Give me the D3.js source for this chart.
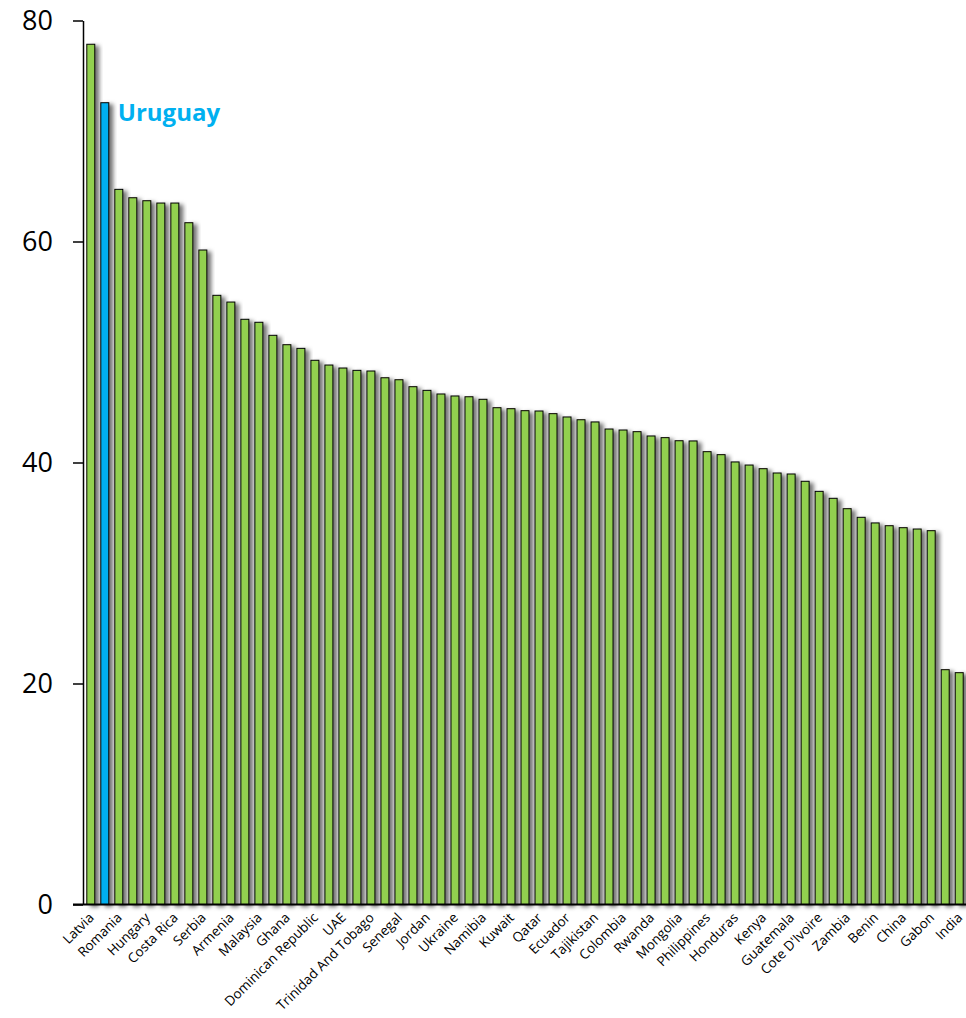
<!DOCTYPE html>
<html>
<head>
<meta charset="utf-8">
<script src="https://cdn.jsdelivr.net/npm/d3@7/dist/d3.min.js"></script>
<style>
  body { margin: 0; background: #fff; }
  svg { display: block; font-family: "Open Sans", sans-serif; }
</style>
</head>
<body>
<svg id="chart"></svg>
<script>
// values, sorted high to low (63 countries)
const values = [
  77.85, 72.56, 64.72, 63.96, 63.69, 63.48, 63.48, 61.70, 59.23, 55.13,
  54.52, 52.96, 52.69, 51.51, 50.66, 50.33, 49.25, 48.82, 48.55, 48.34,
  48.28, 47.67, 47.49, 46.86, 46.53, 46.20, 46.02, 45.95, 45.72, 44.96,
  44.87, 44.69, 44.66, 44.42, 44.12, 43.87, 43.67, 43.03, 42.94, 42.79,
  42.40, 42.25, 41.97, 41.95, 40.98, 40.71, 40.05, 39.77, 39.44, 39.05,
  38.96, 38.30, 37.39, 36.76, 35.82, 35.04, 34.53, 34.28, 34.10, 33.98,
  33.83, 21.25, 20.98
];
// only every other bar carries a label in the original
const tickLabels = [
  "Latvia", "Romania", "Hungary", "Costa Rica", "Serbia", "Armenia", "Malaysia",
  "Ghana", "Dominican Republic", "UAE", "Trinidad And Tobago", "Senegal", "Jordan",
  "Ukraine", "Namibia", "Kuwait", "Qatar", "Ecuador", "Tajikistan", "Colombia",
  "Rwanda", "Mongolia", "Philippines", "Honduras", "Kenya", "Guatemala",
  "Cote D'Ivoire", "Zambia", "Benin", "China", "Gabon", "India"
];
const highlightIndex = 1;
const highlightName = "Uruguay";
const yTicks = [0, 20, 40, 60, 80];

const width = 966, height = 1018;
const svg = d3.select("#chart").attr("width", width).attr("height", height);

const x = d3.scaleBand()
  .domain(d3.range(values.length))
  .range([84, 966])
  .paddingInner(0.43)
  .paddingOuter(0.2);

const y = d3.scaleLinear().domain([0, 80]).range([904.5, 20.5]);

// soft shadow to the right of each bar
const defs = svg.append("defs");
const f = defs.append("filter").attr("id", "shadow")
  .attr("x", "-50%").attr("y", "-10%").attr("width", "250%").attr("height", "120%");
f.append("feDropShadow")
  .attr("dx", 4).attr("dy", 2).attr("stdDeviation", 2.2)
  .attr("flood-color", "#000").attr("flood-opacity", 0.55);

svg.append("g")
  .selectAll("rect")
  .data(values)
  .join("rect")
  .attr("x", (d, i) => x(i))
  .attr("y", d => y(d))
  .attr("width", x.bandwidth())
  .attr("height", d => y(0) - y(d))
  .attr("fill", (d, i) => i === highlightIndex ? "#00B0F0" : "#92D050")
  .attr("stroke", "#000")
  .attr("stroke-width", 1)
  .attr("filter", "url(#shadow)");

// y axis
const yAxis = svg.append("g")
  .attr("transform", "translate(83,0)")
  .call(d3.axisLeft(y).tickValues(yTicks).tickSize(10).tickPadding(20).tickSizeOuter(0));
yAxis.select(".domain").attr("stroke", "#000").attr("stroke-width", 1.5);
yAxis.selectAll(".tick line").attr("stroke", "#000").attr("stroke-width", 1.5);
yAxis.selectAll(".tick text")
  .attr("font-family", "Open Sans, sans-serif")
  .attr("font-size", 27)
  .attr("fill", "#000");

// baseline
svg.append("line")
  .attr("x1", 73).attr("x2", 966)
  .attr("y1", y(0)).attr("y2", y(0))
  .attr("stroke", "#000").attr("stroke-width", 2);

// category labels on every other bar
svg.append("g")
  .selectAll("text")
  .data(tickLabels)
  .join("text")
  .attr("transform", (d, k) => {
    const cx = x(k * 2) + x.bandwidth() / 2 + 4;
    return `translate(${cx},${y(0) + 14}) rotate(-45)`;
  })
  .attr("text-anchor", "end")
  .attr("font-size", 13.5)
  .attr("fill", "#000")
  .text(d => d);

// highlight annotation
svg.append("text")
  .attr("x", x(highlightIndex) + x.bandwidth() + 9)
  .attr("y", 121)
  .attr("font-size", 24)
  .attr("font-weight", "bold")
  .attr("fill", "#00B0F0")
  .text(highlightName);
</script>
</body>
</html>
